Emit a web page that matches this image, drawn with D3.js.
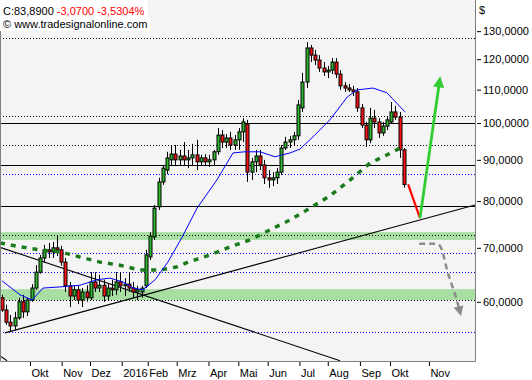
<!DOCTYPE html>
<html><head><meta charset="utf-8">
<script src="https://cdn.jsdelivr.net/npm/d3@7/dist/d3.min.js"></script>
<style>
html,body{margin:0;padding:0;background:#fff;}
svg{display:block;font-family:"Liberation Sans",Arial,sans-serif;font-size:11px;}
</style></head>
<body><svg id="c" width="532" height="380"></svg>
<script>
// ---- data (candles = 3 trading days each, Sep 2015 - Oct 2016) ----
const opens  = [60.7,58.6,56.6,56.0,57.3,60.0,58.3,60.3,62.4,65.3,68.0,69.6,69.2,70.0,69.6,67.2,62.8,61.0,62.1,60.3,61.7,60.7,63.5,62.4,62.9,61.0,62.4,62.1,63.5,62.8,63.1,62.4,61.7,61.7,62.8,68.2,72.2,78.7,84.5,87.4,90.0,91.5,90.0,91.0,90.0,90.5,91.3,89.5,90.5,89.5,90.0,92.1,96.6,94.7,95.8,93.9,95.3,97.5,99.7,86.9,89.5,91.0,88.7,85.5,85.0,85.5,86.9,93.1,94.7,95.3,96.4,104.4,112.4,123.9,121.4,119.7,117.0,115.7,116.3,119.0,115.0,111.2,110.5,109.9,109.3,104.4,99.4,95.3,101.4,100.3,97.2,99.1,100.3,103.2,101.7,92.6];
const highs  = [61.2,59.5,57.8,58.3,60.7,61.2,60.7,63.1,66.6,68.6,70.6,71.0,71.2,72.6,70.4,68.0,63.5,62.9,62.8,62.4,62.9,65.3,65.3,64.8,63.9,63.1,63.9,65.3,65.3,64.2,65.3,63.5,62.8,62.8,69.6,73.2,79.1,85.5,88.7,92.1,93.9,93.9,92.6,94.7,92.6,94.2,95.3,91.3,91.5,91.3,92.6,98.6,98.0,96.9,97.5,96.6,98.6,101.4,100.9,90.5,92.6,92.6,90.0,87.4,86.9,87.9,93.9,96.1,96.4,97.5,106.8,115.4,126.0,125.0,123.2,121.4,119.0,117.7,120.4,120.4,116.3,112.4,111.8,111.2,110.5,105.6,100.3,104.4,103.8,101.4,100.3,102.0,106.2,105.0,103.2,93.1];
const lows   = [58.3,56.2,55.2,55.4,57.0,57.3,57.6,60.0,62.1,65.0,67.2,68.0,68.0,68.4,66.5,61.7,59.1,60.3,59.6,59.1,60.0,60.3,61.7,61.7,60.0,60.3,61.0,61.2,61.7,61.0,61.7,60.7,60.3,60.7,62.4,67.6,71.6,78.0,83.8,86.4,88.4,88.7,88.4,88.7,87.9,88.7,87.4,88.4,88.4,88.2,88.7,91.3,93.1,93.1,92.6,92.6,92.6,94.7,84.5,85.0,86.9,87.4,84.0,83.1,83.5,84.0,86.2,92.6,93.1,93.6,95.3,103.2,110.5,119.0,118.0,115.7,114.4,113.7,115.0,113.7,109.9,109.3,109.3,108.0,103.2,98.6,93.4,94.4,98.6,95.8,96.4,98.0,99.7,100.9,90.5,83.1];
const closes = [58.6,56.6,56.0,57.3,60.0,58.3,60.3,62.4,65.3,68.0,69.6,69.2,70.0,69.6,67.2,62.8,61.0,62.1,60.3,61.7,60.7,63.5,62.4,62.9,61.0,62.4,62.1,63.5,62.8,63.1,62.4,61.7,62.1,62.4,68.6,72.4,78.4,84.5,87.9,90.5,91.5,90.0,91.0,90.0,90.5,91.3,89.5,90.5,89.5,90.0,92.1,96.6,94.7,95.8,93.9,95.3,97.5,100.3,86.9,89.5,91.0,88.7,85.5,85.0,85.5,86.9,93.1,94.7,95.3,96.4,105.3,112.4,123.9,121.4,119.7,117.0,115.7,116.3,119.0,115.0,111.2,110.5,109.9,109.3,104.4,99.4,95.3,101.4,100.3,97.2,99.1,100.9,103.2,101.7,92.6,83.89];

// moving averages: [candle index, price]
const maFast = [[0,63.7],[4.26,61.2],[7.09,60.3],[9.69,62.4],[13.7,62.6],[18.4,62.9],[22.5,63.9],[25.5,64.2],[28.6,63.5],[31.0,62.4],[33.3,62.1],[36.2,63.9],[39.2,67.2],[42.6,72.2],[46.1,78.4],[50.8,85.0],[54.6,91.8],[57.4,92.1],[61.0,92.1],[64.5,90.8],[68.1,91.8],[70.4,92.8],[73.5,96.1],[77.5,100.9],[81.6,107.7],[83.9,109.9],[87.7,110.5],[91.0,109.0],[94.8,103.8],[95.3,103.2]];
const maSlow = [[-0.47,71.0],[4.26,70.2],[9.0,69.6],[13.7,69.2],[18.4,68.2],[23.2,67.2],[27.9,66.6],[32.6,65.7],[37.4,65.7],[41.4,66.3],[44.0,67.2],[49.2,68.6],[53.9,70.2],[58.6,71.6],[63.4,73.7],[68.1,75.8],[72.8,78.4],[77.5,81.2],[82.3,85.0],[87.0,89.2],[90.5,91.0],[94.1,93.1],[95.0,93.6]];

// drawn levels / tools
const solidLevels = [100, 88.7, 78.9];
const dottedBlack = [127.6, 102.0, 93.9, 72.6, 60.3];
const dottedBlue  = [86.4, 69.0, 65.3, 55.0];
const zones = [[71.6, 73.2], [60.3, 62.2]];
const trendLines = [[[0.7, 54.9], [111.8, 79.1]], [[-0.47, 70.1], [79.9, 50.7]], [[-0.47, 51.4], [1.2, 50.7]]];
const projRed   = [[96.0, 83.9], [98.8, 76.2]];
const projGreen = [[98.8, 76.2], [103.4, 112.5]];
const projGray  = [[98.6, 70.8], [102.8, 70.8], [103.8, 70.0], [104.5, 68.0], [105.2, 65.7], [106.1, 63.5], [106.9, 61.7], [107.6, 60.0], [108.2, 58.4]];

const monthLabels = ["Okt","Nov","Dez","2016","Feb","Mrz","Apr","Mai","Jun","Jul","Aug","Sep","Okt","Nov"];
const monthPos    = [6.62,14.1,20.8,28.3,34.45,41.3,48.8,55.86,62.8,70.3,77.0,84.6,91.7,100.9];
const yTicks = [60,70,80,90,100,110,120,130];

const headerClose = "C:83,8900";
const headerChange = "-3,0700 -3,5304%";
const headerCopy = "© www.tradesignalonline.com";

// ---- layout ----
const W = 475, H = 361;
const svg = d3.select("#c");
const x = d3.scaleLinear().domain([-0.473, 111.8]).range([0, W]);
const y = d3.scaleLog().domain([50.66, 142.1]).range([H, 0]);

svg.append("rect").attr("x",0).attr("y",0).attr("width",W).attr("height",H).attr("fill","#f4f4f4");

const plot = svg.append("g");
const clip = svg.append("defs").append("clipPath").attr("id","pc");
clip.append("rect").attr("x",0).attr("y",0).attr("width",W).attr("height",H);

// zones
plot.selectAll(".zone").data(zones).join("rect")
  .attr("x",0).attr("width",W)
  .attr("y",d=>y(d[1])).attr("height",d=>y(d[0])-y(d[1]))
  .attr("fill","#a8dea2");

// dotted levels
plot.selectAll(".db").data(dottedBlack).join("line")
  .attr("x1",0).attr("x2",W).attr("y1",d=>Math.round(y(d))+0.5).attr("y2",d=>Math.round(y(d))+0.5)
  .attr("stroke","#000").attr("stroke-width",1).attr("stroke-dasharray","1,2");
plot.selectAll(".dbl").data(dottedBlue).join("line")
  .attr("x1",0).attr("x2",W).attr("y1",d=>Math.round(y(d))+0.5).attr("y2",d=>Math.round(y(d))+0.5)
  .attr("stroke","#0000ff").attr("stroke-width",1).attr("stroke-dasharray","1,2");

// solid levels
plot.selectAll(".sl").data(solidLevels).join("line")
  .attr("x1",0).attr("x2",W).attr("y1",d=>Math.round(y(d))+0.5).attr("y2",d=>Math.round(y(d))+0.5)
  .attr("stroke","#000").attr("stroke-width",1.1);

// trend lines
const lineGen = d3.line().x(d=>x(d[0])).y(d=>y(d[1]));
const tg = svg.append("g").attr("clip-path","url(#pc)");
tg.selectAll("path").data(trendLines).join("path")
  .attr("d",lineGen).attr("fill","none").attr("stroke","#000").attr("stroke-width",1.1);

// candles
const cg = svg.append("g");
const idx = d3.range(closes.length);
cg.selectAll(".w").data(idx).join("line")
  .attr("x1",i=>Math.round(x(i))+0.5).attr("x2",i=>Math.round(x(i))+0.5)
  .attr("y1",i=>y(highs[i])).attr("y2",i=>y(lows[i]))
  .attr("stroke","#000").attr("stroke-width",1);
cg.selectAll(".b").data(idx).join("rect")
  .attr("x",i=>Math.round(x(i))-1)
  .attr("width",3)
  .attr("y",i=>y(Math.max(opens[i],closes[i])))
  .attr("height",i=>Math.max(1,Math.abs(y(opens[i])-y(closes[i]))))
  .attr("fill",i=>closes[i]>=opens[i]?"#2db82d":"#ff1010")
  .attr("stroke","#000").attr("stroke-width",1);

// moving averages
svg.append("path").datum(maSlow).attr("d",lineGen).attr("fill","none")
  .attr("stroke","#1b7a1b").attr("stroke-width",3.5).attr("stroke-dasharray","5,6");
svg.append("path").datum(maFast).attr("d",lineGen).attr("fill","none")
  .attr("stroke","#0000ff").attr("stroke-width",1);

// projections
const defs = svg.select("defs");
function marker(id,color){
  defs.append("marker").attr("id",id).attr("viewBox","0 0 10 10").attr("refX",5).attr("refY",5)
    .attr("markerWidth",4).attr("markerHeight",4).attr("orient","auto").attr("markerUnits","strokeWidth")
    .append("path").attr("d","M0,0 L10,5 L0,10 z").attr("fill",color);
}
marker("mg","#33cc33"); marker("mgr","#8c8c8c");
svg.append("path").datum(projRed).attr("d",lineGen).attr("fill","none")
  .attr("stroke","#ff0000").attr("stroke-width",2.2);
svg.append("path").datum(projGreen).attr("d",lineGen).attr("fill","none")
  .attr("stroke","#33cc33").attr("stroke-width",2.8).attr("marker-end","url(#mg)");
svg.append("path").datum(projGray).attr("d",d3.line().x(d=>x(d[0])).y(d=>y(d[1])).curve(d3.curveMonotoneX)).attr("fill","none")
  .attr("stroke","#8c8c8c").attr("stroke-width",2.5).attr("stroke-dasharray","6,4").attr("marker-end","url(#mgr)");

// border
svg.append("path").attr("d",`M0.5,0 V${H+0.5} H${W+0.5} V0`).attr("fill","none").attr("stroke","#808080").attr("stroke-width",1);

// x axis
const xa = svg.append("g").attr("transform",`translate(0,${H+1})`)
  .call(d3.axisBottom(x).tickValues(monthPos).tickSize(4).tickFormat((d,i)=>monthLabels[i]));
xa.select(".domain").remove();
xa.selectAll(".tick line").attr("stroke","#000");
xa.selectAll(".tick text").attr("text-anchor","start").attr("dx","1").attr("y",7)
  .attr("fill","#000").style("font-size","11px").style("font-family","'Liberation Sans',Arial,sans-serif");

// y axis
const ya = svg.append("g").attr("transform",`translate(${W+2},0)`)
  .call(d3.axisRight(y).tickValues(yTicks).tickSize(4).tickPadding(2)
    .tickFormat(d=>d3.format(".4f")(d).replace(".",",")));
ya.select(".domain").remove();
ya.selectAll(".tick line").attr("stroke","#000");
ya.selectAll(".tick text").attr("fill","#000").style("font-size","11px").style("font-family","'Liberation Sans',Arial,sans-serif");
svg.append("text").attr("x",479).attr("y",14).text("$").attr("fill","#000");

// header
const hg = svg.append("g");
const r1 = hg.append("rect").attr("fill","#fff");
const r2 = hg.append("rect").attr("fill","#fff");
const t1 = hg.append("text").attr("x",3).attr("y",15);
t1.append("tspan").text(headerClose + " ").attr("fill","#000");
t1.append("tspan").text(headerChange).attr("fill","#ff0000");
const t2 = hg.append("text").attr("x",3).attr("y",28).attr("fill","#000").text(headerCopy);
const b1 = t1.node().getBBox(), b2 = t2.node().getBBox();
r1.attr("x",0).attr("y",0).attr("width",b1.x+b1.width+3).attr("height",17);
r2.attr("x",0).attr("y",17).attr("width",b2.x+b2.width+3).attr("height",14);
</script></body></html>
